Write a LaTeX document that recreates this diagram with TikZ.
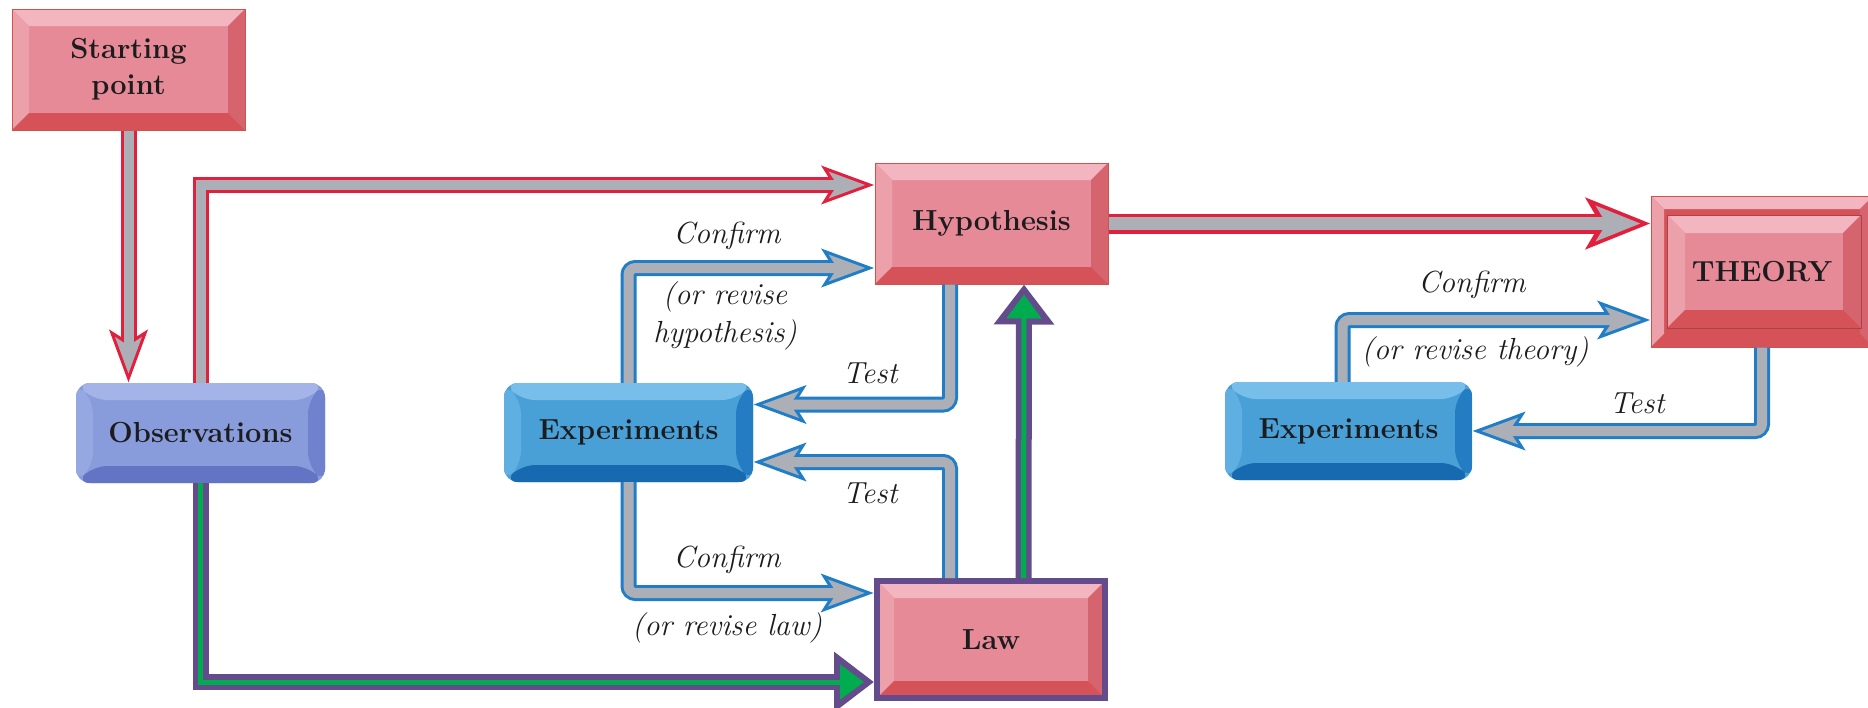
\documentclass[tikz,border=0pt]{standalone}
\usetikzlibrary{arrows.meta,calc}
\definecolor{rface}{RGB}{230,138,152}
\definecolor{rtop}{RGB}{243,182,192}
\definecolor{rleft}{RGB}{236,160,170}
\definecolor{rright}{RGB}{214,100,110}
\definecolor{rbot}{RGB}{212,82,88}
\definecolor{redge}{RGB}{208,82,76}
\definecolor{bface}{RGB}{72,160,215}
\definecolor{btop}{RGB}{120,190,234}
\definecolor{bleft}{RGB}{96,175,226}
\definecolor{bright}{RGB}{36,124,194}
\definecolor{bbot}{RGB}{24,106,176}
\definecolor{lface}{RGB}{136,156,220}
\definecolor{ltop}{RGB}{164,180,232}
\definecolor{lleft}{RGB}{150,168,226}
\definecolor{lright}{RGB}{112,130,206}
\definecolor{lbot}{RGB}{100,116,196}
\definecolor{agray}{RGB}{172,176,182}
\definecolor{ared}{RGB}{226,32,62}
\definecolor{ablue}{RGB}{32,126,200}
\definecolor{apurp}{RGB}{100,76,140}
\definecolor{agreen}{RGB}{0,172,78}
\definecolor{txtc}{RGB}{28,28,30}
\newcommand\bevrect[7]{%
 \coordinate (qNW) at (#1);
 \coordinate (qSE) at (#2);
 \coordinate (qNE) at (qNW -| qSE);
 \coordinate (qSW) at (qNW |- qSE);
 \fill[#4] (qNW) -- (qNE) -- ([xshift=-#3,yshift=-#3]qNE) -- ([xshift=#3,yshift=-#3]qNW) -- cycle;
 \fill[#5] (qNW) -- (qSW) -- ([xshift=#3,yshift=#3]qSW) -- ([xshift=#3,yshift=-#3]qNW) -- cycle;
 \fill[#6] (qNE) -- (qSE) -- ([xshift=-#3,yshift=#3]qSE) -- ([xshift=-#3,yshift=-#3]qNE) -- cycle;
 \fill[#7] (qSW) -- (qSE) -- ([xshift=-#3,yshift=#3]qSE) -- ([xshift=#3,yshift=#3]qSW) -- cycle;
}
\newcommand\bevpp[5]{\bevrect{path picture bounding box.north west}{path picture bounding box.south east}{#1}{#2}{#3}{#4}{#5}}
\newcommand\conR[2][]{%
 \draw[ared, line width=16pt, #1, -{Stealth[length=52pt,width=37pt,inset=11pt]}] #2;
 \draw[agray, line width=10pt, #1, shorten >=9pt, -{Stealth[length=36pt,width=25.6pt,inset=8pt]}] #2;}
\newcommand\conRR[2][]{%
 \draw[ared, line width=20pt, #1, -{Stealth[length=64pt,width=50pt,inset=14pt]}] #2;
 \draw[agray, line width=13pt, #1, shorten >=10pt, -{Stealth[length=44pt,width=34.4pt,inset=10pt]}] #2;}
\newcommand\conB[2][]{%
 \draw[ablue, line width=16pt, rounded corners=7pt, #1, -{Stealth[length=52pt,width=37pt,inset=11pt]}] #2;
 \draw[agray, line width=10pt, rounded corners=7pt, #1, shorten >=9pt, -{Stealth[length=36pt,width=25.6pt,inset=8pt]}] #2;}
\newcommand\conG[2][]{%
 \draw[apurp, line width=16pt, #1, -{Triangle[length=40pt,width=58pt]}] #2;
 \draw[agreen, line width=5pt, #1, shorten >=10pt, -{Triangle[length=24pt,width=34pt]}] #2;}
\tikzset{
 boxtxt/.style={font=\fontsize{29}{36}\selectfont\bfseries, text=txtc, inner sep=0pt, align=center},
 redbox/.style={boxtxt, rectangle, fill=rface, draw=redge, line width=1pt,
   path picture={\bevpp{17pt}{rtop}{rleft}{rright}{rbot}}},
 bluebox/.style={boxtxt, rectangle, rounded corners=14pt, fill=bface,
   path picture={\bevpp{17pt}{btop}{bleft}{bright}{bbot}}},
 lavbox/.style={boxtxt, rectangle, rounded corners=14pt, fill=lface,
   path picture={\bevpp{17pt}{ltop}{lleft}{lright}{lbot}}},
 theorybox/.style={boxtxt, rectangle, fill=rbot, draw=redge, line width=1pt,
   path picture={\bevpp{13pt}{rtop}{rleft}{rright}{rbot}
     \coordinate (iA) at ([xshift=16pt,yshift=-19pt]path picture bounding box.north west);
     \coordinate (iB) at ([xshift=-12pt,yshift=19pt]path picture bounding box.south east);
     \fill[rface] (iA) rectangle (iB);
     \bevrect{iA}{iB}{18pt}{rtop}{rleft}{rright}{rbot}
     \draw[rbot!80!black, line width=1pt] (iA) rectangle (iB);}},
 lbl/.style={font=\fontsize{30.5}{38}\selectfont\itshape, text=txtc, inner sep=0pt, align=center}
}
\begin{document}
\begin{tikzpicture}[x=1pt,y=-1pt]
\fill[white] (0,0) rectangle (1868,707);
\useasboundingbox (0,0) rectangle (1868,707);
% boxes
\node[redbox, minimum width=233pt, minimum height=121pt] (start) at (128.5,69.5) {Starting\\point};
\node[lavbox, minimum width=249pt, minimum height=100pt] (obs) at (200.5,433) {Observations};
\node[redbox, minimum width=233pt, minimum height=121pt] (hyp) at (991.5,223.5) {Hypothesis};
\node[theorybox, minimum width=222pt, minimum height=151pt] (theory) at (1762,271.5) {THEORY};
\node[bluebox, minimum width=249pt, minimum height=99pt] (expA) at (628.5,432.5) {Experiments};
\node[bluebox, minimum width=247pt, minimum height=98pt] (expB) at (1348.5,431) {Experiments};
\node[redbox, draw=apurp, line width=6pt, minimum width=228pt, minimum height=117pt] (law) at (991,639.5) {Law};
% helper coordinates
\coordinate (oh) at ($(hyp.west)+(0,-38.5)$);
\coordinate (ch) at ($(hyp.west)+(0,44.5)$);
\coordinate (hs) at ($(hyp.south)+(-41.5,0)$);
\coordinate (te1) at ($(expA.east)+(0,-28)$);
\coordinate (ls) at ($(law.north)+(-41,0)$);
\coordinate (te2) at ($(expA.east)+(0,29.5)$);
\coordinate (cl) at ($(law.west)+(0,-46.5)$);
\coordinate (gl) at ($(law.west)+(0,42.5)$);
\coordinate (lu) at ($(law.north)+(32.5,0)$);
\coordinate (hu) at ($(hyp.south)+(32.5,0)$);
\coordinate (tt) at ($(expB.east)+(0,0)$);
\coordinate (ct) at ($(theory.west)+(0,48.5)$);
\coordinate (eb) at ($(expB.north)+(-6,0)$);
% connectors
\conR{(start.south) -- (start.south |- obs.north)}
\conR{(obs.north) |- (oh)}
\conRR{(hyp.east) -- (hyp.east -| theory.west)}
\conB{(expA.north) |- (ch)}
\conB{(hs) |- (te1)}
\conB{(ls) |- (te2)}
\conB{(expA.south) |- (cl)}
\conB{(theory.south) |- (tt)}
\conB{(eb) |- (ct)}
\conG{(obs.south) |- (gl)}
\conG{(lu) -- (hu)}
% labels
\node[lbl] (l1) at (727,236) {Confirm};
\node[lbl] (l2) at (725,316) {(or revise\\hypothesis)};
\node[lbl] (l3) at (870,373) {Test};
\node[lbl] (l4) at (870,493) {Test};
\node[lbl] (l5) at (727,560) {Confirm};
\node[lbl] (l6) at (727,628) {(or revise law)};
\node[lbl] (l7) at (1472,285) {Confirm};
\node[lbl] (l8) at (1475,352) {(or revise theory)};
\node[lbl] (l9) at (1637,403) {Test};
\end{tikzpicture}
\end{document}
